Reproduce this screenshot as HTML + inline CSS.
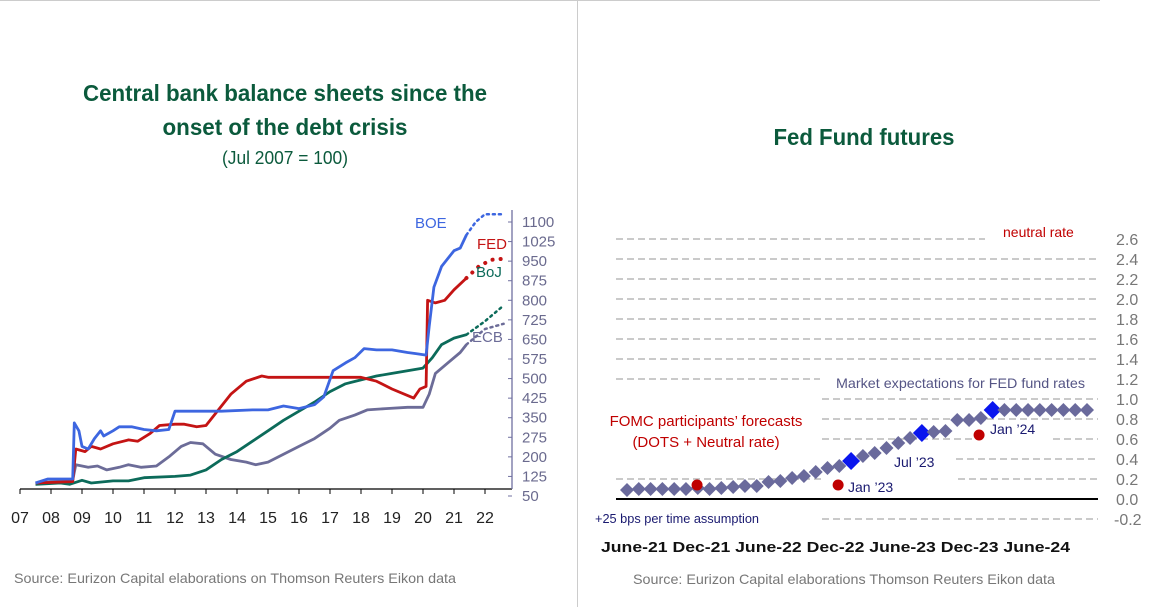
<!DOCTYPE html>
<html><head><meta charset="utf-8"><style>
html,body{margin:0;padding:0;background:#fff;}
svg{display:block;font-family:"Liberation Sans Narrow","Liberation Sans",sans-serif;}
</style></head><body>
<svg id="s" width="1152" height="607" viewBox="0 0 1152 607" xmlns="http://www.w3.org/2000/svg">
<line x1="0" y1="0.5" x2="1100" y2="0.5" stroke="#ccc"/>
<line x1="577.5" y1="0" x2="577.5" y2="607" stroke="#ccc"/>
<g fill="#0b5a3c" font-weight="bold" font-size="23" text-anchor="middle">
<text x="285" y="101" textLength="404" lengthAdjust="spacingAndGlyphs">Central bank balance sheets since the</text>
<text x="285" y="135" textLength="245" lengthAdjust="spacingAndGlyphs">onset of the debt crisis</text>
</g>
<text x="285" y="164" font-size="18" fill="#0b5a3c" text-anchor="middle" textLength="126" lengthAdjust="spacingAndGlyphs">(Jul 2007 = 100)</text>
<text x="14" y="583" font-size="14" fill="#777" textLength="442" lengthAdjust="spacingAndGlyphs">Source: Eurizon Capital elaborations on Thomson Reuters Eikon data</text>
<g id="left"></g>
<text x="864" y="145" font-size="23" font-weight="bold" fill="#0b5a3c" text-anchor="middle" textLength="181" lengthAdjust="spacingAndGlyphs">Fed Fund futures</text>
<text x="633" y="584" font-size="14" fill="#777" textLength="422" lengthAdjust="spacingAndGlyphs">Source: Eurizon Capital elaborations Thomson Reuters Eikon data</text>
<g id="right"></g>
</svg>
<script>
// ---- Left chart data ----
const yearTicks = ["07","08","09","10","11","12","13","14","15","16","17","18","19","20","21","22"];
const yTicksLeft = [50,125,200,275,350,425,500,575,650,725,800,875,950,1025,1100];
const boeT = [7.5,7.9,8.5,8.7,8.75,8.9,9.0,9.2,9.4,9.6,9.7,10.0,10.2,10.6,11.0,11.4,11.8,12.0,12.5,13.5,14.5,15.0,15.5,16.0,16.5,16.8,17.1,17.5,17.8,18.1,18.5,19.0,19.5,19.8,20.1,20.2,20.35,20.6,21.0,21.2,21.4];
const boeV = [100,115,115,115,330,300,240,230,270,300,280,300,315,315,305,300,305,375,375,375,380,380,395,385,400,430,530,560,580,615,610,610,600,595,590,700,850,930,990,1000,1050];
const boeProjT = [21.4,21.7,22.0,22.6];
const boeProjV = [1050,1100,1130,1130];
const fedT = [7.5,8.7,8.8,9.1,9.3,9.6,10.0,10.5,10.8,11.2,11.5,12.0,12.3,12.7,13.0,13.4,13.8,14.3,14.8,15.0,16,17,18.0,18.5,19.0,19.7,19.9,20.1,20.15,20.4,20.7,21.0,21.4];
const fedV = [100,105,230,220,240,230,250,265,260,290,320,325,325,315,320,380,440,490,510,505,505,505,505,490,460,425,460,470,800,790,800,840,885];
const fedProjT = [21.4,21.8,22.2,22.7];
const fedProjV = [885,930,955,960];
const bojT = [7.5,8.3,8.6,9.0,9.3,10.0,10.5,11.0,12.0,12.5,13.0,13.5,14.0,14.5,15.0,15.5,16.0,16.5,17.0,17.5,18.0,18.5,19.0,19.5,20.0,20.3,20.6,21.0,21.4];
const bojV = [95,100,95,110,100,108,108,120,125,130,150,190,220,260,300,340,375,410,450,480,495,510,520,530,540,580,630,655,668];
const bojProjT = [21.4,22.0,22.6];
const bojProjV = [668,720,780];
const ecbT = [7.5,8.7,8.8,9.2,9.5,9.8,10.2,10.5,10.9,11.4,11.8,12.2,12.5,12.9,13.3,13.8,14.3,14.6,15.0,15.5,16.0,16.5,17.0,17.3,17.8,18.2,18.8,19.5,20.0,20.2,20.4,20.8,21.2,21.4];
const ecbV = [100,110,170,160,165,150,160,170,160,165,200,240,255,250,210,190,180,170,180,210,240,270,310,340,360,380,385,390,390,440,520,560,600,630];
const ecbProjT = [21.4,22.0,22.6];
const ecbProjV = [630,690,710];

// ---- Right chart data ----
const rightYTicks = ["2.6","2.4","2.2","2.0","1.8","1.6","1.4","1.2","1.0","0.8","0.6","0.4","0.2","0.0","-0.2"];
const marketExp = [0.09,0.1,0.1,0.1,0.1,0.1,0.11,0.1,0.11,0.12,0.13,0.13,0.17,0.18,0.21,0.23,0.27,0.31,0.33,0.38,0.43,0.46,0.51,0.56,0.61,0.66,0.67,0.68,0.79,0.79,0.81,0.89,0.89,0.89,0.89,0.89,0.89,0.89,0.89,0.89];
const highlightIdx = [19,25,31];
const dotsIdx = [5.94,17.9,29.85];
const dotsV = [0.14,0.14,0.64];
const xCatLabels = ["June-21","Dec-21","June-22","Dec-22","June-23"," Dec-23","June-24"];

const NS="http://www.w3.org/2000/svg";
function mk(parent,tag,attrs,text){const e=document.createElementNS(NS,tag);for(const k in attrs)e.setAttribute(k,attrs[k]);if(text!==undefined)e.textContent=text;parent.appendChild(e);return e;}

// Left axes
const L=document.getElementById('left');
const lx=t=>20+31*(t-7);
const ly=v=>496-(v-50)*(274/1050);
let e;
e=mk(L,'line',{x1:20,y1:489,x2:512,y2:489,stroke:'#000','stroke-width':1.3});


yearTicks.forEach((lab,i)=>{
  const x=lx(7+i);
  e=mk(L,'line',{x1:x,y1:489,x2:x,y2:494,stroke:'#000'});
  
  
  e=mk(L,'text',{x:x,y:523,'font-size':16,fill:'#222','text-anchor':'middle'},lab);
  
  
});
e=mk(L,'line',{x1:512,y1:210,x2:512,y2:489,stroke:'#7070a0','stroke-width':1.3});


yTicksLeft.forEach(v=>{
  const y=ly(v);
  e=mk(L,'line',{x1:508,y1:y,x2:512,y2:y,stroke:'#7070a0'});
  
  
  e=mk(L,'text',{x:522,y:y+5,'font-size':15,fill:'#6a6a8e'},String(v));
  
  
});
function pts(T,V){return T.map((t,i)=>lx(t).toFixed(1)+','+ly(V[i]).toFixed(1)).join(' ');}
const series=[
 ['ecb','#6c6c98',ecbT,ecbV,ecbProjT,ecbProjV],
 ['boj','#0c6b5a',bojT,bojV,bojProjT,bojProjV],
 ['fed','#c41414',fedT,fedV,fedProjT,fedProjV],
 ['boe','#3d66e0',boeT,boeV,boeProjT,boeProjV]];
series.forEach(s=>{
  e=mk(L,'polyline',{points:pts(s[2],s[3]),fill:'none',stroke:s[1],'stroke-width':2.8,'stroke-linejoin':'round'});
  
  
  e=mk(L,'polyline',{points:pts(s[4],s[5]),fill:'none',stroke:s[1],'stroke-width':s[0]==='fed'?4:2.5,'stroke-dasharray':s[0]==='fed'?'0.1 8':'2 4','stroke-linecap':'round'});
  
  
});
[['BOE',415,228,'#3d66e0'],['FED',477,249,'#c41414'],['BoJ',476,277,'#0c6b5a'],['ECB',472,342,'#6c6c98']].forEach(l=>{
  e=mk(L,'text',{x:l[1],y:l[2],'font-size':15,fill:l[3]},l[0]);
  
  
});

// Right chart
const R=document.getElementById('right');
const ry=v=>499-v*100;
const rx=i=>627+i*(460/39);
const gridSegs={"2.6":[[616,985]],"1.2":[[616,820]],"1.0":[[822,1098]],"0.8":[[822,1098]],"0.6":[[822,980],[1053,1098]],"0.4":[[956,1098]],"0.2":[[616,821],[958,1098]],"-0.2":[[822,1098]]};
rightYTicks.forEach(lab=>{
  const v=parseFloat(lab), y=ry(v);
  if(lab!=="0.0"){
    (gridSegs[lab]||[[616,1098]]).forEach(sg=>{
      e=mk(R,'line',{x1:sg[0],y1:y,x2:sg[1],y2:y,stroke:'#aaa','stroke-width':1.3,'stroke-dasharray':'7 4'});
      
      
    });
  }
  e=mk(R,'text',{x:lab.startsWith('-')?1114:1116,y:y+6,'font-size':16,fill:'#777'},lab);
  
  
});
e=mk(R,'line',{x1:616,y1:ry(0),x2:1098,y2:ry(0),stroke:'#000','stroke-width':2});


marketExp.forEach((v,i)=>{
  const x=rx(i),y=ry(v),big=highlightIdx.indexOf(i)>=0,r=big?9:7;
  e=mk(R,'polygon',{points:`${x},${y-r} ${x+r},${y} ${x},${y+r} ${x-r},${y}`,fill:big?'#0a16ee':'#6a6a9c'});
  
  
});
dotsIdx.forEach((d,i)=>{
  e=mk(R,'circle',{cx:rx(d),cy:ry(dotsV[i]),r:5.5,fill:'#c00000'});
  
  
});
[["Jan ’23",848,492],["Jul ’23",894,467],["Jan ’24",990,434]].forEach(l=>{
  e=mk(R,'text',{x:l[1],y:l[2],'font-size':14,fill:'#1a1a70'},l[0]);
  
  
});
e=mk(R,'text',{x:1003,y:237,'font-size':14,fill:'#c00000'},'neutral rate');


e=mk(R,'text',{x:836,y:388,'font-size':14,fill:'#555585',textLength:249,lengthAdjust:'spacingAndGlyphs'},'Market expectations for FED fund rates');


e=mk(R,'text',{x:706,y:426,'font-size':15,fill:'#c00000','text-anchor':'middle'},'FOMC participants’ forecasts');


e=mk(R,'text',{x:706,y:447,'font-size':15,fill:'#c00000','text-anchor':'middle'},'(DOTS + Neutral rate)');


e=mk(R,'text',{x:595,y:523,'font-size':13,fill:'#1a1a70',textLength:164,lengthAdjust:'spacingAndGlyphs'},'+25 bps per time assumption');


e=mk(R,'text',{x:601,y:552,'font-size':15,'font-weight':'bold',fill:'#111',textLength:469,lengthAdjust:'spacingAndGlyphs','xml:space':'preserve','font-family':'Liberation Sans, sans-serif'},xCatLabels.join(' '));


</script>
</body></html>
